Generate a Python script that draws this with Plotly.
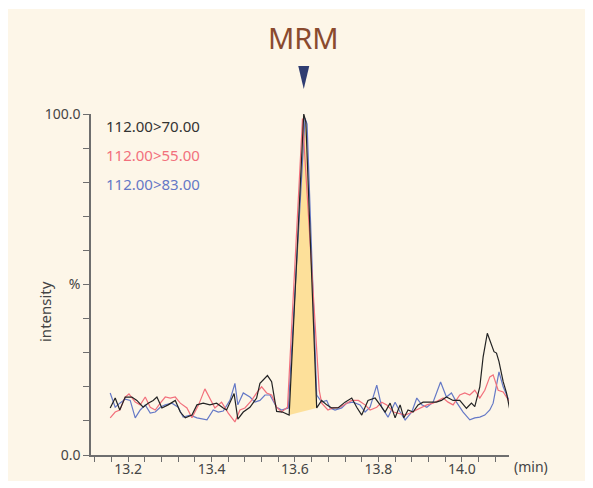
import plotly.graph_objects as go

# ---------------- data (retention time in min, intensity in %) ----------------
black_t = [13.157, 13.169, 13.180, 13.193, 13.209, 13.221, 13.236, 13.248, 13.260, 13.269,
           13.281, 13.296, 13.313, 13.325, 13.337, 13.353, 13.365, 13.380, 13.396, 13.412,
           13.428, 13.436, 13.454, 13.463, 13.476, 13.492, 13.508, 13.516, 13.534, 13.544,
           13.556, 13.570, 13.586, 13.621, 13.626, 13.652, 13.664, 13.676, 13.688, 13.703,
           13.720, 13.736, 13.748, 13.760, 13.775, 13.792, 13.804, 13.816, 13.828, 13.840,
           13.852, 13.861, 13.871, 13.883, 13.895, 13.907, 13.923, 13.939, 13.951, 13.963,
           13.979, 13.995, 14.011, 14.023, 14.031, 14.043, 14.051, 14.061, 14.077, 14.083,
           14.089, 14.099, 14.107, 14.115]
black_v = [13.8, 16.7, 13.2, 17.0, 17.0, 16.0, 14.0, 15.2, 16.0, 17.0,
           13.8, 14.7, 16.0, 12.6, 10.9, 11.7, 14.7, 15.2, 14.7, 15.2,
           13.8, 13.2, 18.0, 10.5, 12.6, 14.0, 16.7, 21.0, 23.3, 21.5,
           12.8, 12.6, 11.7, 100.0, 97.7, 13.8, 16.0, 14.7, 13.8, 13.8,
           15.5, 16.7, 14.0, 11.7, 16.0, 16.7, 14.7, 12.6, 15.2, 10.9,
           14.7, 10.9, 13.2, 12.6, 14.7, 15.5, 15.5, 15.5, 16.0, 17.0,
           16.0, 16.0, 13.7, 15.2, 14.2, 20.0, 28.8, 35.7, 30.3, 29.9,
           27.4, 21.5, 18.2, 13.2]

red_t = [13.157, 13.169, 13.180, 13.193, 13.202, 13.217, 13.229, 13.241, 13.253, 13.265,
         13.277, 13.289, 13.301, 13.313, 13.325, 13.341, 13.353, 13.369, 13.384, 13.396,
         13.408, 13.424, 13.440, 13.456, 13.468, 13.480, 13.496, 13.508, 13.520, 13.532,
         13.544, 13.556, 13.568, 13.582, 13.618, 13.658, 13.664, 13.679, 13.691, 13.708,
         13.724, 13.736, 13.752, 13.768, 13.780, 13.796, 13.808, 13.820, 13.836, 13.848,
         13.864, 13.876, 13.892, 13.904, 13.916, 13.931, 13.943, 13.955, 13.967, 13.979,
         13.995, 14.007, 14.019, 14.031, 14.043, 14.055, 14.067, 14.075, 14.087, 14.099,
         14.115]
red_v = [10.9, 12.6, 13.2, 17.0, 17.9, 15.5, 14.7, 17.0, 14.0, 13.2,
         15.2, 17.0, 16.7, 17.0, 15.2, 13.8, 10.9, 14.7, 19.4, 16.7,
         13.8, 15.5, 12.3, 9.7, 13.2, 13.8, 16.0, 18.2, 20.0, 18.2,
         17.6, 14.0, 12.6, 14.0, 98.7, 19.0, 15.2, 13.2, 13.8, 14.0,
         15.2, 16.0, 16.0, 14.7, 13.2, 14.0, 15.5, 14.7, 12.6, 12.3,
         11.7, 12.3, 13.2, 14.0, 14.7, 15.2, 16.0, 16.7, 15.5, 14.7,
         17.6, 18.2, 17.6, 19.0, 16.7, 19.0, 22.9, 23.5, 19.0, 18.5,
         15.5]

blue_t = [13.157, 13.169, 13.180, 13.193, 13.205, 13.217, 13.229, 13.241, 13.253, 13.265,
          13.277, 13.289, 13.305, 13.320, 13.332, 13.349, 13.365, 13.377, 13.389, 13.404,
          13.416, 13.428, 13.444, 13.456, 13.463, 13.476, 13.492, 13.504, 13.516, 13.528,
          13.540, 13.556, 13.568, 13.584, 13.624, 13.629, 13.652, 13.664, 13.676, 13.684,
          13.696, 13.712, 13.724, 13.739, 13.756, 13.768, 13.780, 13.796, 13.808, 13.823,
          13.840, 13.852, 13.864, 13.880, 13.892, 13.904, 13.916, 13.931, 13.939, 13.949,
          13.963, 13.975, 13.987, 14.003, 14.019, 14.031, 14.043, 14.055, 14.067, 14.075,
          14.089, 14.099, 14.115]
blue_v = [18.2, 14.0, 15.2, 16.4, 16.0, 10.9, 13.2, 14.7, 12.3, 12.6,
          14.0, 14.7, 15.2, 14.0, 11.1, 11.7, 10.9, 10.6, 10.3, 13.2,
          12.6, 12.9, 16.0, 21.0, 14.7, 18.2, 17.0, 15.5, 16.0, 17.6,
          17.6, 14.0, 13.2, 13.8, 98.8, 97.0, 17.6, 15.5, 16.0, 13.8,
          13.2, 13.8, 15.2, 15.5, 14.7, 12.6, 14.0, 20.5, 14.0, 11.1,
          15.5, 12.6, 10.3, 12.6, 16.7, 14.7, 14.0, 15.5, 18.2, 21.4,
          17.0, 18.2, 15.5, 12.6, 10.3, 10.9, 11.1, 11.7, 13.2, 15.2,
          24.4, 20.0, 15.5]

series_names = ["112.00>70.00", "112.00>55.00", "112.00>83.00"]
peak_window = [13.585, 13.655]          # integrated region of the black trace
x_range = [13.111, 14.113]
x_major = [13.2, 13.4, 13.6, 13.8, 14.0]
x_minor_start, x_minor_step, x_minor_n = 13.12, 0.04, 25
y_ticks = [0, 10, 20, 30, 40, 50, 60, 70, 80, 90, 100]
y_labels = {0: "0.0", 50: "%", 100: "100.0"}

# ---------------- styling ----------------
C_BLACK = "#232323"
C_RED = "#f2707c"
C_BLUE = "#6579c6"
C_FILL = "#fde09a"
C_BG = "#fdf6e8"
C_AXIS = "#6e6e6e"
C_TEXT = "#444444"
FONT = "Noto Sans"

OFF = 8                      # page body margin of the browser
W, H = 585, 480
PL, PR, PT, PB = 91, 509, 114, 455   # plot area edges in window pixels
ML, MT = PL - OFF, PT - OFF
PW, PH = PR - PL, PB - PT
MR, MB = W - ML - PW, H - MT - PH


def px(x):
    return (x - PL) / PW


def py(y):
    return (PB - y) / PH


fig = go.Figure()

# yellow integrated area under black peak
fx = [t for t, v in zip(black_t, black_v) if peak_window[0] <= t <= peak_window[1]]
fy = [v for t, v in zip(black_t, black_v) if peak_window[0] <= t <= peak_window[1]]
fig.add_trace(go.Scatter(x=fx, y=fy, fill="toself", fillcolor=C_FILL,
                         line=dict(width=0), mode="lines", hoverinfo="skip",
                         showlegend=False))

for t, v, c, n in [(blue_t, blue_v, C_BLUE, series_names[2]),
                   (red_t, red_v, C_RED, series_names[1]),
                   (black_t, black_v, C_BLACK, series_names[0])]:
    fig.add_trace(go.Scatter(x=t, y=v, mode="lines", name=n,
                             line=dict(color=c, width=1.2), showlegend=False))

xt = [round(x_minor_start + i * x_minor_step, 2) for i in range(x_minor_n)]
xtxt = [f"{v:.1f}" if any(abs(v - m) < 1e-6 for m in x_major) else "" for v in xt]
ytxt = [y_labels.get(v, "") for v in y_ticks]

fig.update_xaxes(range=x_range, tickvals=xt, ticktext=xtxt, automargin=False,
                 showline=True, linecolor=C_AXIS, linewidth=1.5,
                 ticks="outside", ticklen=5, tickwidth=1, tickcolor=C_AXIS,
                 ticklabelstandoff=-5,
                 showgrid=False, zeroline=False,
                 tickfont=dict(family=FONT, size=14, color=C_TEXT))
fig.update_yaxes(range=[0, 100], tickvals=y_ticks, ticktext=ytxt, automargin=False,
                 showline=True, linecolor=C_AXIS, linewidth=1.5,
                 ticks="outside", ticklen=6, tickwidth=1, tickcolor=C_AXIS,
                 showgrid=False, zeroline=False,
                 tickfont=dict(family=FONT, size=14, color=C_TEXT))

peak_idx = black_v.index(max(black_v))
peak_t = black_t[peak_idx]
peak_paper = (peak_t - x_range[0]) / (x_range[1] - x_range[0])


def note(text, x, y, size, color, xanchor="center", angle=0, xref="paper"):
    return dict(text=text, x=x, y=py(y), xref=xref, yref="paper",
                xanchor=xanchor, yanchor="middle", textangle=angle,
                showarrow=False, font=dict(family=FONT, size=size, color=color))


fig.update_layout(
    width=W, height=H,
    margin=dict(l=ML, r=MR, t=MT, b=MB, autoexpand=False),
    paper_bgcolor="white",
    plot_bgcolor="rgba(0,0,0,0)",
    showlegend=False,
    shapes=[
        dict(type="rect", xref="paper", yref="paper", layer="below",
             x0=px(0), x1=px(600), y0=py(481), y1=py(9),
             fillcolor=C_BG, line=dict(width=0)),
        dict(type="path", xref="paper", yref="paper", xsizemode="pixel", ysizemode="pixel",
             xanchor=peak_paper, yanchor=1, path="M -5.5,48 L 5.5,48 L 0,25 Z",
             fillcolor="#2f3d72", line=dict(width=0)),
    ],
    annotations=[
        note("MRM", peak_paper, 38, 29, "#8a4a2e"),
        note(series_names[0], px(104), 126, 15, "#333333", xanchor="left"),
        note(series_names[1], px(104), 155, 15, C_RED, xanchor="left"),
        note(series_names[2], px(104), 184, 15, C_BLUE, xanchor="left"),
        note("intensity", px(45), 312, 15, C_TEXT, angle=-90),
        note("(min)", px(512), 466, 14, C_TEXT, xanchor="left"),
    ],
)

fig.write_html("out.html")
